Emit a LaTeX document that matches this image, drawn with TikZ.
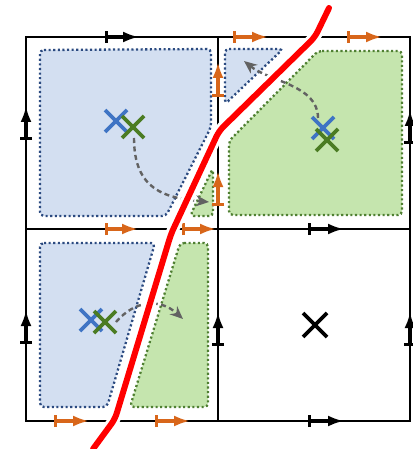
\documentclass[tikz,border=0pt]{standalone}
\usetikzlibrary{arrows.meta,calc}
\definecolor{bluefill}{HTML}{D3DFF1}
\definecolor{blueedge}{HTML}{2B4A80}
\definecolor{greenfill}{HTML}{C5E5AE}
\definecolor{greenedge}{HTML}{4F7F32}
\definecolor{bluex}{HTML}{3F74C4}
\definecolor{greenx}{HTML}{4B7C23}
\definecolor{orangem}{HTML}{D8661A}
\definecolor{grayarrow}{HTML}{626262}
\tikzset{
  bluereg/.style={fill=bluefill, draw=blueedge, line width=2.3pt, dash pattern=on 2.1pt off 2.5pt, rounded corners=4pt},
  greenreg/.style={fill=greenfill, draw=greenedge, line width=2.3pt, dash pattern=on 2.1pt off 2.5pt, rounded corners=4pt},
  gridline/.style={draw=black, line width=2.4pt},
  edgemark/.style={line width=3.2pt, {Bar[width=12pt,line width=2.6pt]}-{Latex[length=16pt,width=11pt]}},
  blackmark/.style={edgemark, draw=black},
  orangemark/.style={edgemark, draw=orangem},
  crossline/.style={line width=3.6pt},
  flowarrow/.style={draw=grayarrow, line width=2.4pt, dash pattern=on 5pt off 3.5pt, -{Stealth[length=13pt,width=11pt]}},
  redhalo/.style={draw=white, line width=12pt, line join=round, line cap=round},
  redline/.style={draw=red, line width=6pt, line join=round, line cap=round}
}
\newcommand{\xmark}[3]{% center, color, half size
  \draw[crossline,#2] ($(#1)+(-#3,-#3)$) -- ($(#1)+(#3,#3)$);
  \draw[crossline,#2] ($(#1)+(-#3,#3)$) -- ($(#1)+(#3,-#3)$);
}
\begin{document}
\begin{tikzpicture}[x=1pt,y=-1pt]
\useasboundingbox (0,0) rectangle (412,449);
\fill[white] (0,0) rectangle (412,449);

% regions
\draw[bluereg] (40,50) -- (211,49) -- (211,127) -- (166,216) -- (40,216) -- cycle;
\draw[greenreg] (213,168) -- (213,216) -- (190,216) -- cycle;
\draw[bluereg] (225,49) -- (283,49) -- (225,104) -- cycle;
\draw[greenreg] (318,51) -- (402,51) -- (402,215) -- (229,215) -- (229,141) -- cycle;
\draw[bluereg] (40,243) -- (155,243) -- (107,407) -- (40,407) -- cycle;
\draw[greenreg] (180,243) -- (208,243) -- (208,407) -- (130,407) -- cycle;

% grid
\draw[gridline] (26,37) rectangle (410,421);
\draw[gridline] (218,37) -- (218,421);
\draw[gridline] (26,229) -- (410,229);

% edge markers
\coordinate (t1a) at (105,37); \coordinate (t1b) at (139,37);
\draw[blackmark] (t1a) -- (t1b);
\coordinate (l1a) at (26,140); \coordinate (l1b) at (26,106);
\draw[blackmark] (l1a) -- (l1b);
\coordinate (l2a) at (26,344); \coordinate (l2b) at (26,310);
\draw[blackmark] (l2a) -- (l2b);
\coordinate (m2a) at (218,346); \coordinate (m2b) at (218,312);
\draw[blackmark] (m2a) -- (m2b);
\coordinate (r1a) at (410,144); \coordinate (r1b) at (410,110);
\draw[blackmark] (r1a) -- (r1b);
\coordinate (r2a) at (410,346); \coordinate (r2b) at (410,312);
\draw[blackmark] (r2a) -- (r2b);
\coordinate (h2a) at (308,229); \coordinate (h2b) at (344,229);
\draw[blackmark] (h2a) -- (h2b);
\coordinate (b2a) at (308,421); \coordinate (b2b) at (344,421);
\draw[blackmark] (b2a) -- (b2b);

\coordinate (o1a) at (233,37); \coordinate (o1b) at (268,37);
\draw[orangemark] (o1a) -- (o1b);
\coordinate (o2a) at (347,37); \coordinate (o2b) at (382,37);
\draw[orangemark] (o2a) -- (o2b);
\coordinate (o3a) at (218,97); \coordinate (o3b) at (218,62);
\draw[orangemark] (o3a) -- (o3b);
\coordinate (o4a) at (218,206); \coordinate (o4b) at (218,171);
\draw[orangemark] (o4a) -- (o4b);
\coordinate (o5a) at (105,229); \coordinate (o5b) at (138,229);
\draw[orangemark] (o5a) -- (o5b);
\coordinate (o6a) at (182,229); \coordinate (o6b) at (216,229);
\draw[orangemark] (o6a) -- (o6b);
\coordinate (o7a) at (54,421); \coordinate (o7b) at (89,421);
\draw[orangemark] (o7a) -- (o7b);
\coordinate (o8a) at (155,421); \coordinate (o8b) at (190,421);
\draw[orangemark] (o8a) -- (o8b);

% crosses
\coordinate (bx1) at (116,121); \coordinate (gx1) at (133,127);
\coordinate (bx2) at (323,128); \coordinate (gx2) at (327,140);
\coordinate (bx3) at (91,320);  \coordinate (gx3) at (105,322);
\coordinate (kx)  at (315,325);
\xmark{bx1}{bluex}{11}
\xmark{gx1}{greenx}{11}
\xmark{bx2}{bluex}{11}
\xmark{gx2}{greenx}{11}
\xmark{bx3}{bluex}{11}
\xmark{gx3}{greenx}{11}
\xmark{kx}{black}{12}

% flow arrows
\coordinate (f1s) at (134,138); \coordinate (f1e) at (209,202);
\draw[flowarrow] (f1s) .. controls (134,190) and (165,198) .. (f1e);
\coordinate (f2s) at (318,118); \coordinate (f2e) at (244,61);
\draw[flowarrow] (f2s) .. controls (318,85) and (270,82) .. (f2e);
\coordinate (f3s) at (116,322); \coordinate (f3e) at (183,319);
\draw[flowarrow] (f3s) .. controls (135,300) and (160,298) .. (f3e);

% red boundary
\coordinate (r0) at (329,8); \coordinate (r1) at (315,37);
\coordinate (r2) at (219,131); \coordinate (r3) at (171,234);
\coordinate (r4) at (115,419); \coordinate (r5) at (93,449);
\draw[redhalo,rounded corners=6pt] (r0) -- (r1) -- (r2) -- (r3) -- (r4) -- (r5);
\draw[redline,rounded corners=6pt] (r0) -- (r1) -- (r2) -- (r3) -- (r4) -- (r5);
\end{tikzpicture}
\end{document}
